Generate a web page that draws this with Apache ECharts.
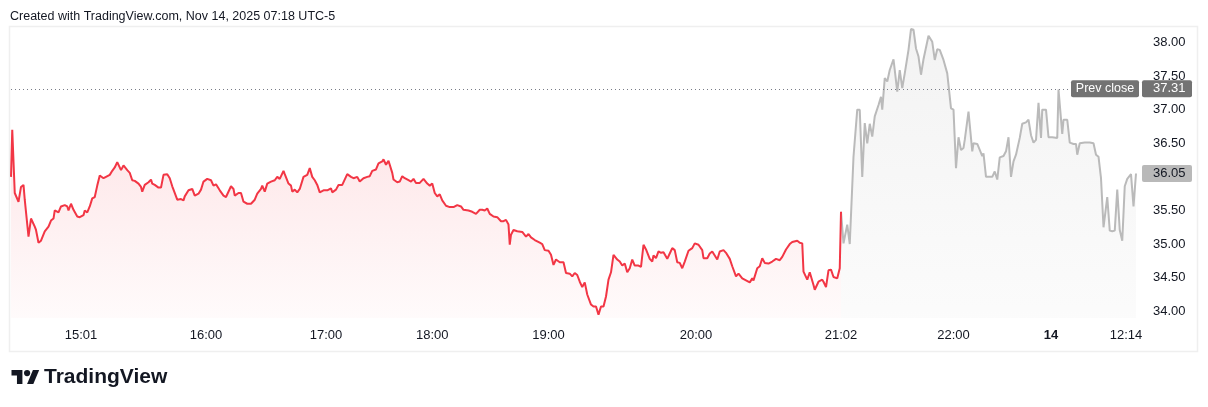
<!DOCTYPE html>
<html><head><meta charset="utf-8">
<script src="https://cdn.jsdelivr.net/npm/echarts@6/dist/echarts.min.js"></script>
<style>html,body{margin:0;padding:0;background:#fff;}#c{width:1208px;height:407px;}</style>
</head><body><div id="c"></div>
<script>
// ---- data (bar index = position on TradingView's bar-based time scale) ----
const redBars = [0,1,3,6,8,10,11,14,16,19,20,22,24,27,30,32,34,35,38,40,43,45,46,48,50,53,55,58,59,61,63,65,67,69,71,74,76,79,81,83,85,86,88,90,93,95,97,99,102,104,105,107,110,112,113,115,118,120,122,125,127,129,130,133,136,138,139,142,145,147,150,152,154,157,160,162,164,167,170,172,176,178,179,182,184,186,189,192,195,197,200,201,203,205,208,211,213,215,218,219,222,224,225,227,229,231,234,237,239,241,243,245,247,250,253,256,257,260,262,265,269,272,274,277,279,282,285,287,289,292,294,297,298,300,302,305,306,309,311,313,315,318,320,322,324,327,330,333,335,337,339,341,343,345,348,351,354,357,360,362,366,369,372,375,377,379,381,383,386,389,392,394,396,398,399,400,402,405,409,412,414,416,419,423,425,427,430,432,434,436,439,442,444,447,449,451,453,455,457,459,461,464,466,468,470,472,474,476,478,480,482,485,487,489,491,493,495,497,499,502,504,506,508,511,513,514,516,518,520,522,525,527,529,531,533,535,537,539,542,545,547,550,553,554,557,559,561,563,565,567,570,572,575,577,580,582,585,588,591,593,594,597,599,601,603,606,609,612,615,617,620,623,625,629,631,633,634,637,639,642,643,646,649,650,652,654,656,658,661,663,664];
const redPrices = [36.00,36.70,35.76,35.63,35.85,35.88,35.66,35.11,35.38,35.26,35.21,35.02,35.05,35.19,35.26,35.35,35.38,35.50,35.47,35.56,35.58,35.56,35.50,35.60,35.51,35.41,35.40,35.43,35.50,35.47,35.56,35.68,35.70,35.87,36.02,35.98,36.00,36.03,36.09,36.14,36.22,36.21,36.10,36.17,36.10,36.06,35.95,35.94,35.90,35.85,35.78,35.88,35.92,35.96,35.90,35.88,35.84,35.84,36.03,36.04,35.98,35.86,35.81,35.66,35.67,35.65,35.71,35.80,35.82,35.72,35.75,35.81,35.93,35.97,35.95,35.87,35.89,35.80,35.72,35.70,35.86,35.82,35.72,35.76,35.76,35.63,35.60,35.60,35.66,35.75,35.82,35.87,35.78,35.90,35.93,35.95,36.00,35.97,36.09,36.04,35.90,35.87,35.78,35.81,35.77,35.82,36.00,36.03,36.13,36.00,35.95,35.88,35.77,35.80,35.80,35.83,35.77,35.81,35.88,35.88,36.04,36.00,35.98,36.00,35.93,35.98,36.00,36.01,36.09,36.11,36.20,36.23,36.26,36.18,36.24,36.06,35.96,35.92,35.93,36.01,35.98,35.95,35.93,35.97,35.91,35.91,35.97,35.90,35.87,35.90,35.76,35.71,35.74,35.65,35.57,35.55,35.55,35.58,35.56,35.51,35.50,35.48,35.45,35.51,35.51,35.50,35.53,35.45,35.41,35.40,35.34,35.34,35.36,35.29,34.99,35.14,35.21,35.19,35.18,35.11,35.15,35.10,35.06,35.02,35.00,34.91,34.90,34.84,34.69,34.77,34.73,34.73,34.57,34.56,34.52,34.57,34.54,34.44,34.36,34.43,34.25,34.10,34.07,34.07,33.95,34.07,34.07,34.22,34.47,34.58,34.84,34.77,34.74,34.68,34.71,34.58,34.64,34.77,34.68,34.68,34.66,34.99,34.92,34.78,34.74,34.83,34.79,34.89,34.87,34.88,34.78,34.86,34.94,34.91,34.73,34.72,34.64,34.74,34.90,34.94,35.01,34.99,34.91,34.79,34.79,34.86,34.89,34.83,34.77,34.89,34.91,34.87,34.78,34.67,34.52,34.56,34.49,34.46,34.43,34.49,34.46,34.64,34.67,34.79,34.72,34.71,34.74,34.78,34.76,34.81,34.92,35.00,35.03,35.05,35.02,35.01,34.59,34.47,34.58,34.39,34.32,34.44,34.47,34.44,34.36,34.61,34.62,34.51,34.49,34.64,35.48];
const grayBars = [664,666,669,671,674,677,679,681,683,685,687,689,691,694,696,697,699,701,703,706,709,711,713,715,718,720,722,724,726,728,730,734,737,739,741,743,746,749,752,754,756,758,760,762,763,766,769,770,773,775,777,778,780,783,785,787,789,791,794,796,798,800,802,804,807,809,812,814,816,818,820,822,824,825,828,830,833,837,838,841,842,845,847,850,852,853,855,859,863,866,868,870,872,874,877,879,881,883,885,887,889,891,893,896,898,900];
const grayPrices = [35.48,35.01,35.29,35.00,36.30,37.00,37.00,36.00,36.80,36.50,36.79,36.60,36.90,37.07,37.19,37.00,37.47,37.42,37.59,37.75,37.27,37.59,37.32,37.54,37.89,38.20,38.19,37.91,37.79,37.52,37.75,38.10,38.01,37.74,37.90,37.89,37.74,37.54,37.02,37.00,36.13,36.59,36.40,36.43,36.55,36.97,36.38,36.50,36.49,36.40,36.31,36.35,36.00,36.00,36.00,36.08,35.96,36.29,36.31,36.38,36.59,36.00,36.23,36.33,36.58,36.79,36.81,36.85,36.62,36.51,36.55,37.10,36.58,37.00,37.00,36.59,36.59,36.58,37.30,36.64,36.85,36.85,36.51,36.49,36.49,36.33,36.50,36.51,36.51,36.50,36.33,36.30,35.98,35.25,35.70,35.20,35.19,35.20,35.81,35.21,35.05,35.86,35.97,36.04,35.56,36.05];
const prevClose = 37.31;
const lastPrice = 36.05;
const yTickValues = [34.0,34.5,35.0,35.5,36.0,36.5,37.0,37.5,38.0];
const xTickBars = [56,156,252,337,430,548,664,754,832,892];
const xTickLabels = ['15:01','16:00','17:00','18:00','19:00','20:00','21:02','22:00','14','12:14'];
const titleText = 'Created with TradingView.com, Nov 14, 2025 07:18 UTC-5';
const brandText = 'TradingView';

// ---- chart ----
const FONT = '"Liberation Sans", Arial, sans-serif';
const TXT = '#131722';
const zip = (a, b) => a.map((v, i) => [v, b[i]]);
const chart = echarts.init(document.getElementById('c'), null, {renderer: 'canvas'});

const option = {
  animation: false,
  backgroundColor: '#ffffff',
  grid: {left: 11, right: 72, top: 27, bottom: 89},
  xAxis: {
    type: 'value', min: 0, max: 900,
    axisLine: {show: false}, axisTick: {show: false}, splitLine: {show: false},
    axisLabel: {
      customValues: xTickBars,
      formatter: v => { const t = xTickLabels[xTickBars.indexOf(v)]; return t === '14' ? '{b|14}' : t; },
      margin: 11, color: TXT, fontSize: 13, fontFamily: FONT,
      rich: {b: {fontWeight: 'bold', fontSize: 13, fontFamily: FONT, color: TXT}}
    }
  },
  yAxis: {
    type: 'value', position: 'right', min: 33.9, max: 38.23,
    axisLine: {show: false}, axisTick: {show: false}, splitLine: {show: false},
    axisLabel: {customValues: yTickValues, formatter: v => v.toFixed(2), margin: 17,
      color: TXT, fontSize: 13, fontFamily: FONT}
  },
  series: [
    {
      type: 'line', data: zip(redBars, redPrices), showSymbol: false, z: 3,
      lineStyle: {color: '#F23645', width: 2},
      areaStyle: {origin: 'start', color: new echarts.graphic.LinearGradient(0, 0, 0, 1, [
        {offset: 0, color: 'rgba(242,54,69,0.18)'}, {offset: 1, color: 'rgba(242,54,69,0.03)'}])},
      markLine: {silent: true, symbol: 'none', label: {show: false},
        lineStyle: {type: [1, 3], color: '#787b86', width: 1},
        data: [{yAxis: prevClose}]}
    },
    {
      type: 'line', data: zip(grayBars, grayPrices), showSymbol: false, z: 2,
      lineStyle: {color: '#bababa', width: 2},
      areaStyle: {origin: 'start', color: new echarts.graphic.LinearGradient(0, 0, 0, 1, [
        {offset: 0, color: 'rgba(120,120,120,0.13)'}, {offset: 1, color: 'rgba(120,120,120,0.04)'}])}
    }
  ]
};
chart.setOption(option);

const yPrev = chart.convertToPixel({yAxisIndex: 0}, prevClose);
const yLast = chart.convertToPixel({yAxisIndex: 0}, lastPrice);
const s = 0.78;
chart.setOption({
  graphic: [
    {type: 'rect', z: 0, silent: true, shape: {x: 9.5, y: 26.5, width: 1188, height: 325},
      style: {fill: null, stroke: '#efefef', lineWidth: 1.5}},
    {type: 'text', left: 10, top: 10, z: 10, style: {text: titleText, font: '12.5px ' + FONT, fill: TXT}},
    {type: 'rect', z: 10, shape: {x: 1071, y: yPrev - 8.5, width: 68, height: 17, r: 2}, style: {fill: '#737373'}},
    {type: 'text', z: 11, x: 1105, y: yPrev, style: {text: 'Prev close', font: '12.5px ' + FONT, fill: '#ffffff', align: 'center', verticalAlign: 'middle'}},
    {type: 'rect', z: 10, shape: {x: 1142, y: yPrev - 8.5, width: 50, height: 17, r: 2}, style: {fill: '#737373'}},
    {type: 'text', z: 11, x: 1153, y: yPrev, style: {text: prevClose.toFixed(2), font: '13px ' + FONT, fill: '#ffffff', align: 'left', verticalAlign: 'middle'}},
    {type: 'rect', z: 10, shape: {x: 1142, y: yLast - 8.5, width: 50, height: 17, r: 2}, style: {fill: '#b9b9b9'}},
    {type: 'text', z: 11, x: 1153, y: yLast, style: {text: lastPrice.toFixed(2), font: '13px ' + FONT, fill: TXT, align: 'left', verticalAlign: 'middle'}},
    {type: 'group', x: 11.5, y: 370 - 4 * s, scaleX: s, scaleY: s, children: [
      {type: 'polygon', shape: {points: [[14,22],[7,22],[7,11],[0,11],[0,4],[14,4]]}, style: {fill: TXT}},
      {type: 'polygon', shape: {points: [[28,22],[20,22],[27.5,4],[35.5,4]]}, style: {fill: TXT}},
      {type: 'circle', shape: {cx: 20, cy: 8, r: 4}, style: {fill: TXT}}
    ]},
    {type: 'text', x: 44, y: 377, style: {text: brandText, font: 'bold 21px ' + FONT, fill: TXT, verticalAlign: 'middle'}}
  ]
});
</script></body></html>
